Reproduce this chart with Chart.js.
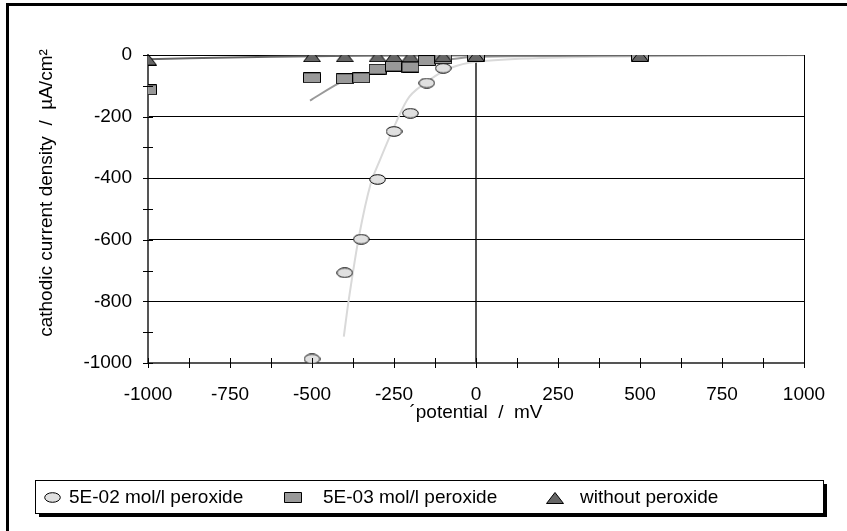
<!DOCTYPE html>
<html>
<head>
<meta charset="utf-8">
<script src="https://cdn.jsdelivr.net/npm/chart.js@4.4.1/dist/chart.umd.min.js"></script>
<style>
  html, body { margin: 0; padding: 0; background: #fff; }
  canvas { display: block; }
</style>
</head>
<body>
<canvas id="c" width="847" height="531"></canvas>
<script>
// ---- data: potential (mV) vs cathodic current density (µA/cm²)
const potHigh = [-500, -400, -350, -300, -250, -200, -150, -100];
const curHigh = [-987, -707, -598, -404, -248, -189, -91, -43];

const potLow = [-1000, -500, -400, -350, -300, -250, -200, -150, -100, 0, 500];
const curLow = [-113, -74, -77, -74, -46, -36, -39, -18, -12, -3, -3];

const potNone = [-1000, -500, -400, -300, -250, -200, -100, 0, 500];
const curNone = [-15, -4, -4, -4, -4, -4, -4, -3, -3];

// trend lines (as drawn in the original)
const trendHighX = [-403, -388, -357, -321, -293, -245, -203, -142, -80, 0, 200, 500, 1000];
const trendHighY = [-914, -795, -590, -417, -341, -222, -135, -81, -43, -22, -10, -4, -1];
const trendLowX = [-506, -418, -350, -300, -200, -100, 0, 250, 500, 1000];
const trendLowY = [-148, -92, -68, -52, -32, -17, -6, -3, -1, 0];
const trendNoneX = [-1000, -750, -500, -250, 0, 1000];
const trendNoneY = [-14, -8, -4, -2, -1, 0];

const LABELS = ["5E-02 mol/l peroxide", "5E-03 mol/l peroxide", "without peroxide"];
const X_TITLE = "\u00B4potential  /  mV";
const Y_TITLE = "cathodic current density  /  \u00B5A/cm\u00B2";

const FONT = "'Liberation Sans', Arial, sans-serif";
const FS = 19;

// Excel-like markers drawn once on small canvases
function marker(shape, w, h, fill) {
  const c = document.createElement("canvas");
  c.width = w; c.height = h;
  const g = c.getContext("2d");
  g.fillStyle = fill; g.strokeStyle = "#000"; g.lineWidth = 1;
  g.beginPath();
  if (shape === "ellipse") g.ellipse(w / 2, h / 2, w / 2 - 0.7, h / 2 - 0.7, 0, 0, Math.PI * 2);
  else if (shape === "rect") g.rect(0.5, 0.5, w - 1, h - 1);
  else { g.moveTo(w / 2, 0.5); g.lineTo(w - 0.5, h - 0.5); g.lineTo(0.5, h - 0.5); g.closePath(); }
  g.fill(); g.stroke();
  return c;
}
const mkHigh = marker("ellipse", 17, 11, "#e0e0e0");
const mkLow = marker("rect", 18, 11, "#999999");
const mkNone = marker("tri", 18, 12, "#666666");

const pts = (xs, ys) => xs.map((x, i) => ({ x, y: ys[i] }));

// frame, y title, crossing tick marks and the boxed legend
const decor = {
  id: "decor",
  beforeDraw(chart) {
    const ctx = chart.ctx;
    ctx.save();
    ctx.fillStyle = "#000";
    ctx.fillRect(6, 3, 847, 3);
    ctx.fillRect(6, 3, 3, 531);
    ctx.restore();
  },
  afterDraw(chart) {
    const ctx = chart.ctx, a = chart.chartArea;
    const xs = chart.scales.x, ys = chart.scales.y;
    ctx.save();
    ctx.strokeStyle = "#000"; ctx.lineWidth = 1;
    ctx.beginPath();
    xs.ticks.forEach(t => {
      const p = Math.round(xs.getPixelForValue(t.value)) + 0.5;
      ctx.moveTo(p, a.bottom - 5); ctx.lineTo(p, a.bottom + 5);
    });
    ys.ticks.forEach(t => {
      const p = Math.round(ys.getPixelForValue(t.value)) + 0.5;
      ctx.moveTo(a.left - 5, p); ctx.lineTo(a.left + 5, p);
    });
    ctx.stroke();

    // y axis title, a little above the plot centre as in the original
    ctx.font = FS + "px " + FONT;
    ctx.fillStyle = "#000";
    ctx.translate(47, 193);
    ctx.rotate(-Math.PI / 2);
    ctx.textAlign = "center";
    ctx.textBaseline = "middle";
    ctx.fillText(Y_TITLE, 0, 0);
    ctx.setTransform(1, 0, 0, 1, 0, 0);

    // legend box with drop shadow
    const L = 35, T = 480, W = 788, H = 33;
    ctx.fillStyle = "#000";
    ctx.fillRect(L + 4, T + 4, W, H);
    ctx.fillStyle = "#fff";
    ctx.fillRect(L, T, W, H);
    ctx.strokeStyle = "#000";
    ctx.strokeRect(L + 0.5, T + 0.5, W, H);
    const cy = T + H / 2 + 1;
    const items = [[mkHigh, 52, 69], [mkLow, 293, 323], [mkNone, 555, 580]];
    ctx.textAlign = "left";
    ctx.textBaseline = "middle";
    ctx.fillStyle = "#000";
    items.forEach(([m, sx, tx], i) => {
      ctx.drawImage(m, Math.round(sx - m.width / 2), Math.round(cy - m.height / 2));
      ctx.fillText(LABELS[i], tx, cy);
    });
    ctx.restore();
  }
};

new Chart(document.getElementById("c"), {
  type: "scatter",
  data: {
    datasets: [
      { label: LABELS[0], data: pts(potHigh, curHigh), pointStyle: mkHigh, order: 3 },
      { label: LABELS[1], data: pts(potLow, curLow), pointStyle: mkLow, order: 2 },
      { label: LABELS[2], data: pts(potNone, curNone), pointStyle: mkNone, order: 1 },
      { label: "trend 1", data: pts(trendHighX, trendHighY), showLine: true, pointRadius: 0,
        borderColor: "#d9d9d9", borderWidth: 2, tension: 0.3, order: 6 },
      { label: "trend 2", data: pts(trendLowX, trendLowY), showLine: true, pointRadius: 0,
        borderColor: "#999999", borderWidth: 2, tension: 0.3, order: 5 },
      { label: "trend 3", data: pts(trendNoneX, trendNoneY), showLine: true, pointRadius: 0,
        borderColor: "#666666", borderWidth: 2, tension: 0.3, order: 4 },
    ],
  },
  options: {
    responsive: false,
    animation: false,
    devicePixelRatio: 1,
    layout: { padding: { top: 55, right: 43, bottom: 98, left: 0 } },
    plugins: { legend: { display: false }, tooltip: { enabled: false } },
    scales: {
      x: {
        type: "linear", min: -1000, max: 1000,
        afterFit: s => { s.height = 70; },
        border: { color: "#555", width: 2 },
        grid: {
          drawTicks: false,
          color: c => c.tick.value === 0 ? "#555" : c.tick.value === 1000 ? "#000" : "transparent",
          lineWidth: c => c.tick.value === 0 ? 2 : 1,
        },
        ticks: {
          stepSize: 125, autoSkip: false, maxRotation: 0, padding: 20, color: "#000",
          font: { family: FONT, size: FS },
          callback: v => v % 250 === 0 ? String(v) : "",
        },
        title: { display: true, text: X_TITLE, color: "#000",
                 font: { family: FONT, size: FS, lineHeight: 1.2 }, padding: { top: 0, bottom: 9 } },
      },
      y: {
        type: "linear", min: -1000, max: 0,
        afterFit: s => { s.width = 148; },
        border: { color: "#555", width: 2 },
        grid: {
          drawTicks: false,
          color: c => (c.tick.value % 200 === 0) ? "#000" : "transparent",
        },
        ticks: {
          stepSize: 100, autoSkip: false, padding: 16, color: "#000",
          font: { family: FONT, size: FS },
          callback: v => v % 200 === 0 ? String(v) : "",
        },
      },
    },
  },
  plugins: [decor],
});
</script>
</body>
</html>
